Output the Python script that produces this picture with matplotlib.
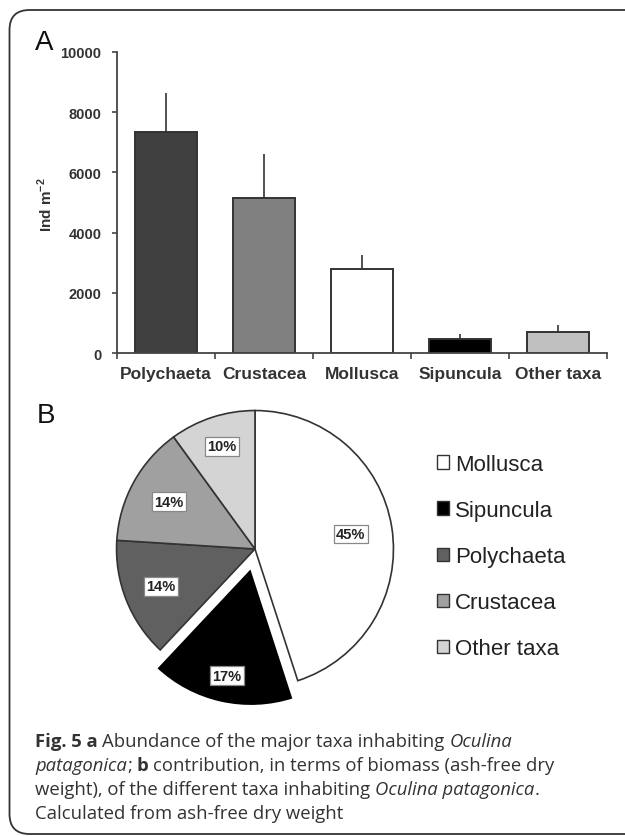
import numpy as np
import matplotlib
matplotlib.use("Agg")
import matplotlib.pyplot as plt
from matplotlib.patches import Patch, FancyBboxPatch
from matplotlib.transforms import IdentityTransform

# panel A: abundance (Ind m-2), mean and upper error
taxa = ["Polychaeta", "Crustacea", "Mollusca", "Sipuncula", "Other taxa"]
abund = [7350, 5150, 2800, 475, 720]
abund_err = [1270, 1450, 470, 165, 220]
bar_cols = ["#404040", "#808080", "#ffffff", "#000000", "#c0c0c0"]
yticks = [0, 2000, 4000, 6000, 8000, 10000]

# panel B: biomass share (%)
pie_taxa = ["Mollusca", "Sipuncula", "Polychaeta", "Crustacea", "Other taxa"]
biomass = [45, 17, 14, 14, 10]
pie_cols = ["#ffffff", "#000000", "#606060", "#a0a0a0", "#d4d4d4"]

W, H = 625, 837
plt.rcParams['mathtext.fontset'] = 'custom'
plt.rcParams['mathtext.rm'] = 'Liberation Sans:bold'
plt.rcParams['mathtext.bf'] = 'Liberation Sans:bold'
fig = plt.figure(figsize=(W/100, H/100), dpi=100)
fx = lambda px: px/W
fy = lambda py: 1 - py/H

# rounded frame (right side runs off the image)
frame = FancyBboxPatch((9.5, 2), 680, H-13, boxstyle="round,pad=0,rounding_size=20",
                       transform=IdentityTransform(), fill=False, ec="#333", lw=1.3)
fig.add_artist(frame)

# ---- A: bars
ax = fig.add_axes([fx(117.3), fy(354.3), fx(606.7)-fx(117.3), fy(52.7)-fy(354.3)])
x = np.arange(len(taxa))
ax.bar(x, abund, width=0.63, color=bar_cols, edgecolor="#333", lw=1.4, zorder=2)
ax.errorbar(x, abund, yerr=[np.zeros(len(x)), abund_err], fmt="none", ecolor="#333",
            elinewidth=1.2, capsize=0, zorder=1)
ax.set_xlim(-0.5, len(taxa)-0.5); ax.set_ylim(0, 10000)
ax.set_yticks(yticks)
ax.set_yticklabels([str(v) for v in yticks], fontfamily="Liberation Sans", fontweight="bold",
                   fontsize=10.5, color="#333")
ax.set_xticks(x)
ax.set_xticklabels(taxa, fontfamily="Liberation Sans", fontweight="bold", fontsize=12.5, color="#333")
ax.set_xticks(np.arange(-0.5, len(taxa), 1), minor=True)
ax.tick_params(axis="x", which="major", length=0, pad=9)
ax.tick_params(axis="x", which="minor", length=4, width=1.2, color="#444", direction="out")
ax.tick_params(axis="y", length=3.5, width=1.2, color="#444", pad=8)
for s in ["top", "right"]: ax.spines[s].set_visible(False)
for s in ["left", "bottom"]: ax.spines[s].set_color("#444"); ax.spines[s].set_linewidth(1.3)
ax.set_ylabel(r"Ind m$^{-2}$", fontfamily="Liberation Sans", fontweight="bold", fontsize=11, color="#333")
ax.yaxis.set_label_coords(-0.128, 0.495)
fig.text(fx(35), fy(50), "A", fontsize=20, family="Liberation Sans", color="#111", va="baseline")

# ---- B: pie
pax = fig.add_axes([fx(75), fy(730), fx(435)-fx(75), fy(370)-fy(730)])
wedges, _, autot = pax.pie(biomass, colors=pie_cols, startangle=90, counterclock=False,
                           explode=[0, 0.137, 0, 0, 0], autopct=lambda p: f"{p:.0f}%",
                           wedgeprops=dict(edgecolor="#333", linewidth=1.2))
wedges[1].set_edgecolor("white"); wedges[1].set_linewidth(1.5)
dists = [0.70, 0.80, 0.73, 0.71, 0.78]
for w, t, d in zip(wedges, autot, dists):
    a = np.deg2rad((w.theta1 + w.theta2)/2); cx, cy = w.center
    t.set_position((cx + d*np.cos(a), cy + d*np.sin(a)))
    t.set_fontfamily("Liberation Sans"); t.set_fontweight("bold"); t.set_fontsize(10.5); t.set_color("#222")
    t.set_bbox(dict(boxstyle="square,pad=0.16", fc="white", ec="#888", lw=0.9))
pax.set_xlim(-1.3, 1.3); pax.set_ylim(-1.3, 1.3); pax.set_aspect("equal"); pax.axis("off")
fig.text(fx(36.7), fy(423), "B", fontsize=20, family="Liberation Sans", color="#111", va="baseline")

handles = [Patch(facecolor=c, edgecolor="#333", lw=1.0, label=l) for c, l in zip(pie_cols, pie_taxa)]
fig.legend(handles=handles, loc="upper left", bbox_to_anchor=(fx(436.7), fy(455)), frameon=False,
           prop=dict(family="Liberation Sans", size=16), labelcolor="#222",
           handlelength=0.57, handleheight=0.57, handletextpad=0.26, labelspacing=1.13,
           borderpad=0, borderaxespad=0)

# ---- caption with mixed styles
rend = fig.canvas.get_renderer()
CAP = dict(family="Open Sans", fontsize=13.3, color="#333", va="baseline")
def width(t):
    return t.get_window_extent(rend).width
probe1 = fig.text(0, 0, "a a", **CAP); probe2 = fig.text(0, 0, "aa", **CAP)
SP = width(probe1) - width(probe2); probe1.remove(); probe2.remove()
lines = [
    [("Fig. 5 a", "b"), ("Abundance of the major taxa inhabiting", "n"), ("Oculina", "i")],
    [("patagonica", "i"), (";", "n+"), ("b", "b"), ("contribution, in terms of biomass (ash-free dry", "n")],
    [("weight), of the different taxa inhabiting", "n"), ("Oculina patagonica", "i"), (".", "n+")],
    [("Calculated from ash-free dry weight", "n")],
]
for i, parts in enumerate(lines):
    xp = 35; y = fy(747 + 24*i)
    for j, (txt, st) in enumerate(parts):
        if j > 0 and not st.endswith("+"): xp += SP
        kw = dict(CAP)
        if st.startswith("b"): kw["fontweight"] = "bold"
        if st.startswith("i"): kw["fontstyle"] = "italic"
        t = fig.text(fx(xp), y, txt, **kw)
        xp += width(t)

fig.savefig("out.png", dpi=100)
